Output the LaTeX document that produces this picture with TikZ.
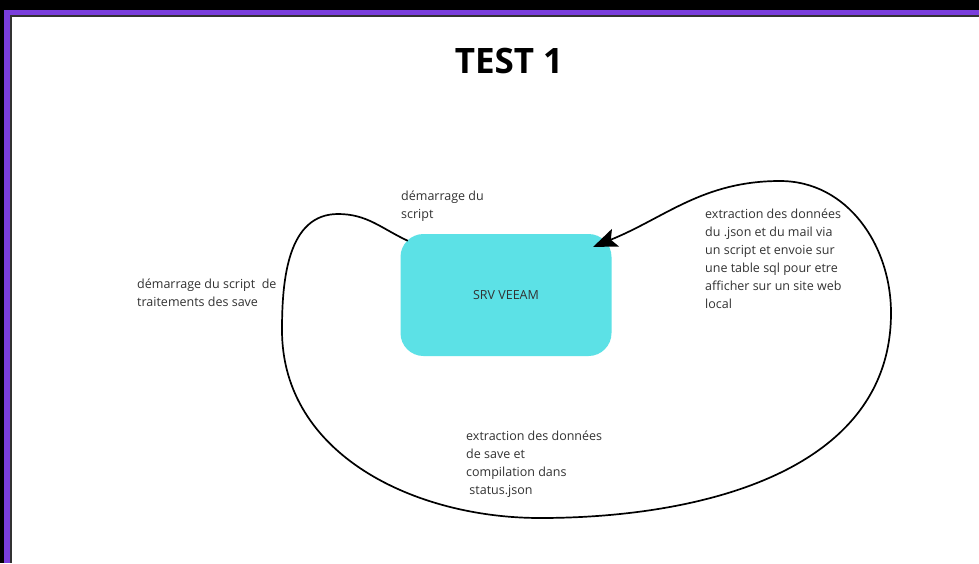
\documentclass[tikz,border=0pt]{standalone}
\usepackage{fontspec}
\setmainfont{Open Sans}
\usetikzlibrary{arrows.meta}
\definecolor{veeamcyan}{HTML}{5CE1E6}
\definecolor{framepurple}{RGB}{122,62,220}
\definecolor{textgray}{RGB}{50,50,50}
\tikzset{
  srvbox/.style={fill=veeamcyan, rounded corners=23pt, minimum width=211pt, minimum height=122pt, inner sep=0pt, font=\fontsize{12.5}{18}\selectfont, text=textgray},
  lbl/.style={anchor=north west, inner sep=0pt, align=left, font=\fontsize{12.5}{18}\selectfont, text=textgray},
  loopline/.style={line width=1.7pt, -{Stealth[length=24pt,width=19pt,inset=5pt]}},
}
\begin{document}
\begin{tikzpicture}[x=1pt,y=1pt]
\useasboundingbox (0,0) rectangle (979,-563);
\fill[black] (0,0) rectangle (979,-563);
\fill[framepurple] (4,-10) rectangle (979,-563);
\fill[black!80] (10,-15) rectangle (979,-563);
\fill[white] (12,-17) rectangle (979,-563);
\node[font=\fontsize{35}{40}\selectfont\bfseries] (title) at (509,-61) {TEST 1};
\node[srvbox] (srv) at (506,-295) {SRV VEEAM};
\coordinate (start) at ([xshift=7.5pt,yshift=-7pt]srv.north west);
\coordinate (tip) at ([xshift=-18.5pt,yshift=-13pt]srv.north east);
\draw[loopline] (start) to[out=155,in=0] (338,-214) to[out=180,in=90] (282,-330)
  to[out=-90,in=180] (540,-518) to[out=0,in=-90] (891,-313)
  to[out=90,in=0] (780,-181) to[out=180,in=22] (tip);
\node[lbl] (startlbl) at (401,-191) {démarrage du\\script};
\node[lbl] (treatlbl) at (137,-279) {démarrage du script\ \ de\\traitements des save};
\node[lbl] (sqllbl) at (705,-209) {extraction des données\\du .json et du mail via\\un script et envoie sur\\une table sql pour etre\\afficher sur un site web\\local};
\node[lbl] (jsonlbl) at (466,-431) {extraction des données\\de save et\\compilation dans\\\ status.json};
\end{tikzpicture}
\end{document}
